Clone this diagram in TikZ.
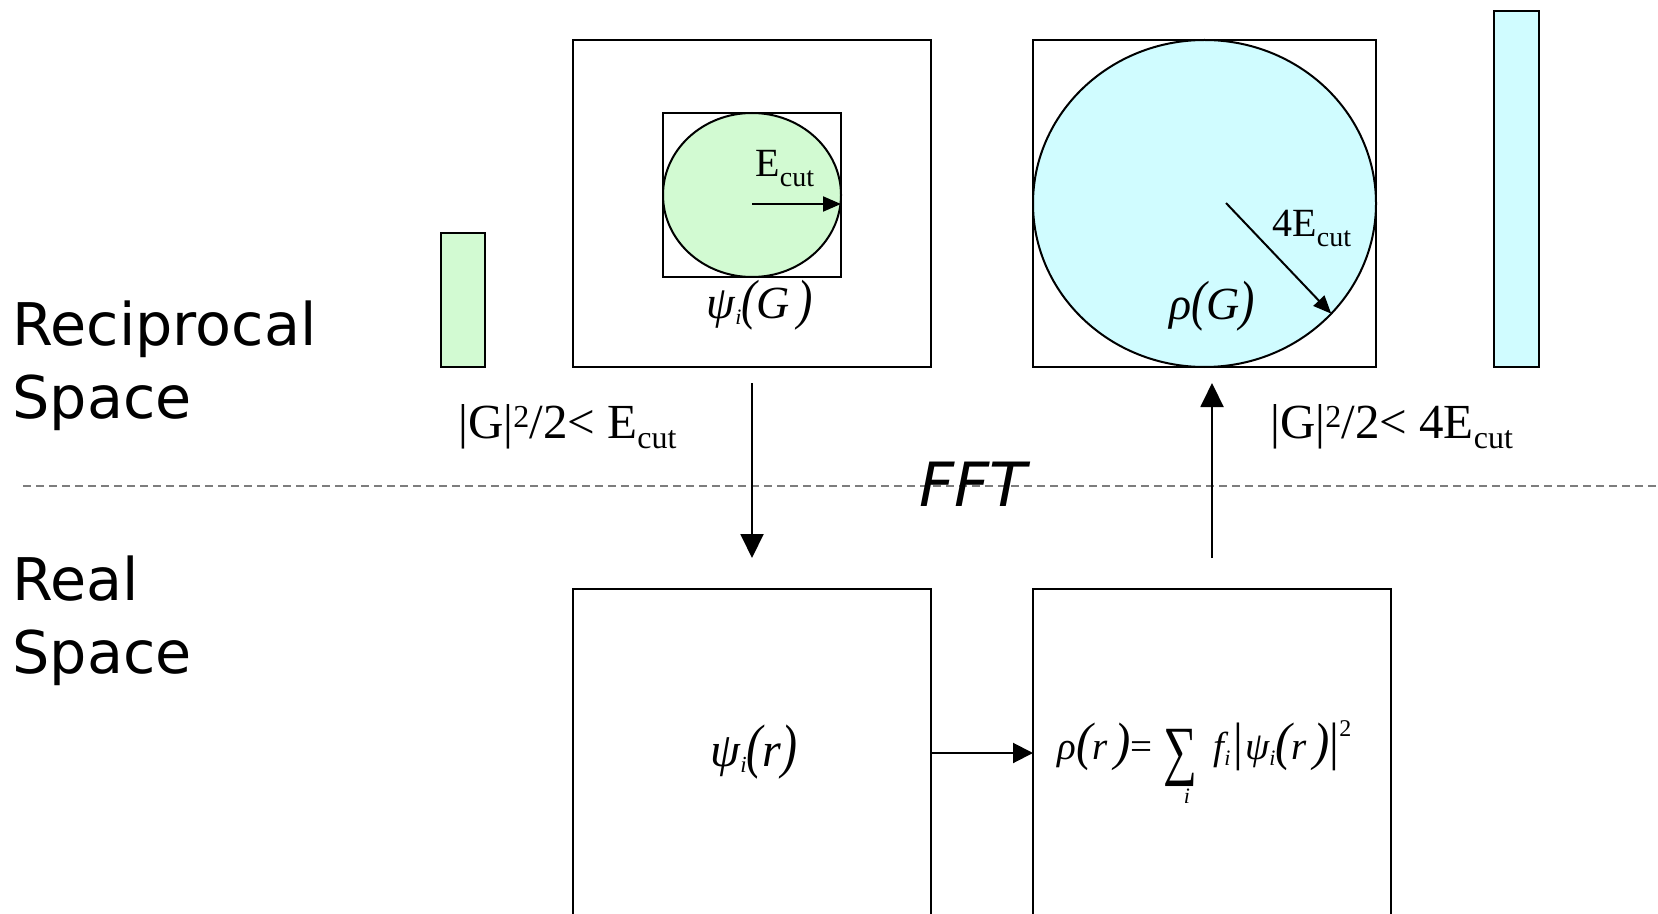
\documentclass[tikz,border=0pt]{standalone}
\usepackage{fontspec}
\setmainfont{Liberation Serif}
\newfontfamily\sansfam{DejaVu Sans}
\usetikzlibrary{arrows.meta,shapes.geometric}
\definecolor{lgreen}{RGB}{210,250,210}
\definecolor{lcyan}{RGB}{208,252,255}
\definecolor{dashgray}{RGB}{125,125,125}
\newcommand{\tallp}[2][1.15]{\scalebox{1}[#1]{#2}}
\newcommand{\bigpar}[1]{\scalebox{1.25}[1.35]{#1}}
\newcommand{\lowtxt}[3]{\raisebox{-#2}{\fontsize{#1}{#1}\selectfont #3}}
\newcommand{\uptxt}[3]{\raisebox{#2}{\fontsize{#1}{#1}\selectfont #3}}
\newcommand{\sumsym}{$\mathop{\hbox{\raisebox{-6.5pt}{\fontsize{33}{33}\selectfont\upshape\scalebox{0.72}[1]{∑}}}}\limits_{\hbox{\fontsize{11}{11}\selectfont\itshape\hspace{6pt}i}}$}
\begin{document}
\begin{tikzpicture}[x=0.5pt,y=-0.5pt,
  frame/.style={draw=black, line width=1pt, rectangle, inner sep=0pt, outer sep=0pt},
  oval/.style={draw=black, line width=1pt, ellipse, inner sep=0pt, outer sep=0pt},
  arr/.style={line width=1pt, -{Triangle[length=12pt,width=11.5pt]}},
  midarr/.style={line width=1pt, -{Triangle[length=10pt,width=10pt]}},
  smallarr/.style={line width=1pt, -{Triangle[length=9pt,width=7.5pt]}},
  side/.style={font=\sansfam\fontsize{29.4}{34}\selectfont, anchor=base west, inner sep=0pt},
  lbl/.style={inner sep=0pt, anchor=base west},
  math/.style={inner sep=0pt, font=\fontsize{23}{26}\selectfont},
]
\clip (0,0) rectangle (1658,914);
\fill[white] (0,0) rectangle (1658,914);

% side labels
\node[side] (rec1) at (12,345) {Reciprocal};
\node[side] (rec2) at (12,418) {Space};
\node[side] (real1) at (12,600) {Real};
\node[side] (real2) at (12,673) {Space};

% dashed separator
\coordinate (dl) at (23,486);
\coordinate (dr) at (1658,486);
\draw[dashgray, line width=0.9pt, dash pattern=on 4pt off 2.5pt] (dl) -- (dr);
\node[lbl, font=\sansfam\itshape\fontsize{30.5}{34}\selectfont] (fft) at (919,506) {FFT};

% reciprocal space, left
\node[frame, fill=lgreen, minimum width=22pt, minimum height=67pt] (gbar) at (463,300) {};
\node[frame, minimum width=179pt, minimum height=163.5pt] (box1) at (752,203.5) {};
\node[oval, fill=lgreen, minimum width=89pt, minimum height=82pt] (gcirc) at (752,195) {};
\node[frame, minimum width=89pt, minimum height=82pt] (inner) at (752,195) {};
\coordinate (ecs) at (752,204);
\draw[smallarr] (ecs) -- (ecs -| inner.east);
\node[lbl, font=\fontsize{20}{22}\selectfont] (ecut) at (755,177) {E\lowtxt{14}{5pt}{cut}};
\node[math] (psiG) at (760,305) {\itshape ψ\lowtxt{11}{3pt}{\itshape i}\tallp[1.2]{(}G\,\tallp[1.2]{)}};
\node[lbl, font=\fontsize{24.5}{26}\selectfont] (cond1) at (458,438) {|G|\uptxt{16}{5.3pt}{2}/2< E\lowtxt{16}{5pt}{cut}};

% reciprocal space, right
\node[frame, minimum width=171.5pt, minimum height=163.5pt] (box2) at (1204.5,203.5) {};
\node[oval, fill=lcyan, minimum width=171.5pt, minimum height=163.5pt] (ccirc) at (1204.5,203.5) {};
\node[frame, fill=lcyan, minimum width=22.5pt, minimum height=178pt] (cbar) at (1516.5,189) {};
\coordinate (rs) at (1226,203);
\draw[smallarr] (rs) -- (ccirc.-41);
\node[lbl, font=\fontsize{20}{22}\selectfont] (fourecut) at (1272,237) {4E\lowtxt{14}{5pt}{cut}};
\node[math] (rhoG) at (1212,306) {\itshape ρ\tallp[1.2]{(}G\tallp[1.2]{)}};
\node[lbl, font=\fontsize{24.5}{26}\selectfont] (cond2) at (1270,438) {|G|\uptxt{16}{5.3pt}{2}/2< 4E\lowtxt{16}{5pt}{cut}};

% real space
\node[frame, minimum width=179pt, minimum height=164pt] (box3) at (752,753) {};
\node[frame, minimum width=179pt, minimum height=164pt] (box4) at (1212,753) {};
\node[math, font=\fontsize{24}{26}\selectfont] (psir) at (754,752) {\itshape ψ\lowtxt{11.5}{3pt}{\itshape i}\tallp[1.25]{(}r\tallp[1.25]{)}};
\node[lbl, font=\fontsize{19.5}{24}\selectfont] (rhor) at (1057,759)
  {\itshape ρ\bigpar{(}r\,\bigpar{)}\upshape=\hspace{0.3em}\sumsym\hspace{0.4em}\itshape f\lowtxt{11}{3pt}{\itshape i}\hspace{0.08em}\bigpar{\upshape|}\hspace{0.05em}ψ\lowtxt{11}{3pt}{\itshape i}\bigpar{(}r\,\bigpar{)}\bigpar{\upshape|}\uptxt{12}{11.5pt}{\upshape 2}};

% connectors
\draw[arr] ([yshift=-8pt]box1.south) -- ([yshift=15.5pt]box3.north);
\draw[arr] ([yshift=15.5pt]box4.north) -- ([yshift=-8pt]box4.north |- box2.south);
\draw[midarr] (box3.east) -- (box4.west);
\end{tikzpicture}
\end{document}
